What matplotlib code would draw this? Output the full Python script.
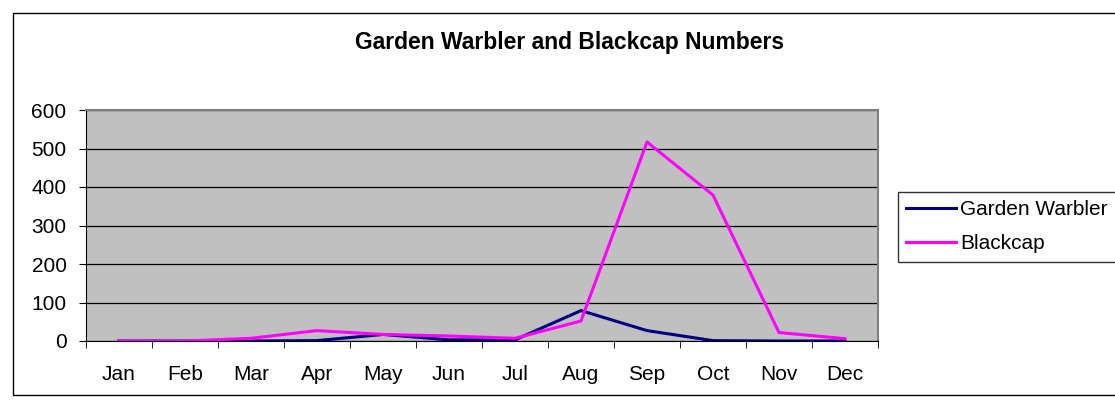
import numpy as np
import matplotlib
matplotlib.use("Agg")
import matplotlib.pyplot as plt
from matplotlib.patches import Rectangle

months = ["Jan", "Feb", "Mar", "Apr", "May", "Jun",
          "Jul", "Aug", "Sep", "Oct", "Nov", "Dec"]
garden_warbler = [0, 0, 0, 1, 17, 3, 3, 79, 27, 1, 0, 0]
blackcap = [0, 0, 7, 27, 17, 13, 7, 52, 517, 379, 22, 6]

W, H = 1115, 408
plt.rcParams["font.family"] = ["Liberation Sans", "DejaVu Sans"]
fig = plt.figure(figsize=(W / 100, H / 100), dpi=100)
fig.patch.set_facecolor("white")

# outer chart border (runs off the right edge like the original)
fig.patches.append(Rectangle((13 / W, 1 - 395 / H), 1.2, (395 - 13) / H,
                             transform=fig.transFigure, fill=False,
                             edgecolor="black", linewidth=1.0))

ax = fig.add_axes([86 / W, 1 - 341 / H, (878 - 86) / W, (341 - 110) / H])
ax.set_facecolor("#C0C0C0")

x = np.arange(len(months))
ax.plot(x, garden_warbler, color="#000080", lw=2.2, label="Garden Warbler")
ax.plot(x, blackcap, color="#FF00FF", lw=2.2, label="Blackcap")

ax.set_xlim(-0.5, len(months) - 0.5)
ax.set_ylim(0, 600)
ax.set_yticks(range(0, 601, 100))
ax.set_xticks(x)
ax.set_xticklabels(months)
ax.set_xticks(np.arange(-0.5, len(months), 1), minor=True)
ax.tick_params(axis="x", which="major", length=0, pad=17, labelsize=15)
ax.tick_params(axis="x", which="minor", length=5, direction="out", color="black")
ax.tick_params(axis="y", length=5, direction="out", labelsize=15, pad=9)
ax.yaxis.grid(True, color="black", lw=0.9)
ax.set_axisbelow(True)

for side in ["top", "right"]:
    ax.spines[side].set_color("#808080")
    ax.spines[side].set_linewidth(1.5)
ax.spines["left"].set_color("black")
ax.spines["bottom"].set_color("black")

fig.text(570 / W, 1 - 42 / H, "Garden Warbler and Blackcap Numbers",
         ha="center", va="center", fontsize=16.5, fontweight="bold")

leg = fig.legend(loc="upper left", bbox_to_anchor=(898 / W, 1 - 192 / H),
                 frameon=True, fancybox=False, fontsize=15, handlelength=2.4,
                 handletextpad=0.2, borderpad=0.4, labelspacing=0.72,
                 borderaxespad=0)
leg.get_frame().set_edgecolor("black")
leg.get_frame().set_linewidth(1.0)

fig.savefig("out.png", dpi=100)
